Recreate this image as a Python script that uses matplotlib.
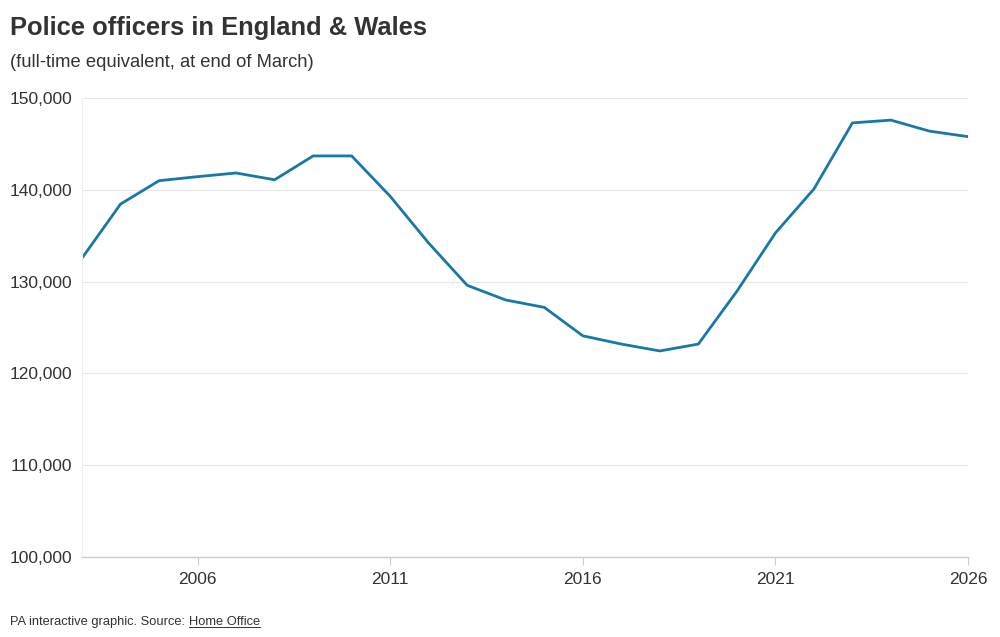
#!/usr/bin/env python3
"""Police officers in England & Wales, full-time equivalent, line chart."""

import matplotlib
matplotlib.use('Agg')
import matplotlib.pyplot as plt
from matplotlib.lines import Line2D
from matplotlib.ticker import FuncFormatter

years = list(range(2003, 2027))
officers = [132560, 138450, 141000, 141440, 141840, 141100, 143700, 143700,
            139300, 134200, 129600, 128000, 127200, 124100, 123200, 122450,
            123200, 128950, 135300, 140100, 147300, 147600, 146400, 145800]
x_ticks = [2006, 2011, 2016, 2021, 2026]
y_ticks = [100000, 110000, 120000, 130000, 140000, 150000]

title = 'Police officers in England & Wales'
subtitle = '(full-time equivalent, at end of March)'
footer = 'PA interactive graphic. Source:'
source = 'Home Office'

plt.rcParams['font.family'] = ['Liberation Sans', 'DejaVu Sans']
TEXT = '#333333'

fig = plt.figure(figsize=(10, 6.37), dpi=100)
ax = fig.add_axes([0.082, 0.1256, 0.886, 0.7204])

ax.plot(years, officers, color='#1879a6', linewidth=2.0, solid_joinstyle='miter')

ax.set_xlim(2003, 2026)
ax.set_ylim(100000, 150000)
ax.set_xticks(x_ticks)
ax.set_yticks(y_ticks)
ax.yaxis.set_major_formatter(FuncFormatter(lambda v, p: f'{int(v):,}'))

ax.grid(True, axis='y', color='#e8e8e8', linewidth=0.8)
ax.set_axisbelow(True)
for side in ['top', 'right']:
    ax.spines[side].set_visible(False)
ax.spines['left'].set_color('#efefef')
ax.spines['left'].set_linewidth(0.8)
ax.spines['bottom'].set_color('#cccccc')
ax.spines['bottom'].set_linewidth(1.0)

ax.tick_params(axis='y', length=0, pad=7, labelsize=12.5, labelcolor=TEXT)
ax.tick_params(axis='x', length=6, width=0.8, color='#cccccc', pad=5,
               labelsize=12.5, labelcolor=TEXT)

fig.text(0.010, 0.956, title, fontsize=18.4, fontweight='bold', color=TEXT,
         va='center', ha='left')
fig.text(0.010, 0.902, subtitle, fontsize=13.2, color=TEXT,
         va='center', ha='left')
ft = fig.text(0.010, 0.023, footer, fontsize=9.25, color=TEXT,
              va='center', ha='left')

# source link, underlined
fig.canvas.draw()
r = fig.canvas.get_renderer()
bb = ft.get_window_extent(r)
st = fig.text((bb.x1 + 4) / fig.bbox.width, 0.023, source, fontsize=9.25,
              color=TEXT, va='center', ha='left')
sb = st.get_window_extent(r)
uy = (sb.y0 + 1) / fig.bbox.height
fig.add_artist(Line2D([sb.x0 / fig.bbox.width, sb.x1 / fig.bbox.width], [uy, uy],
                      color=TEXT, linewidth=0.7))

fig.savefig('out.png', dpi=100)
